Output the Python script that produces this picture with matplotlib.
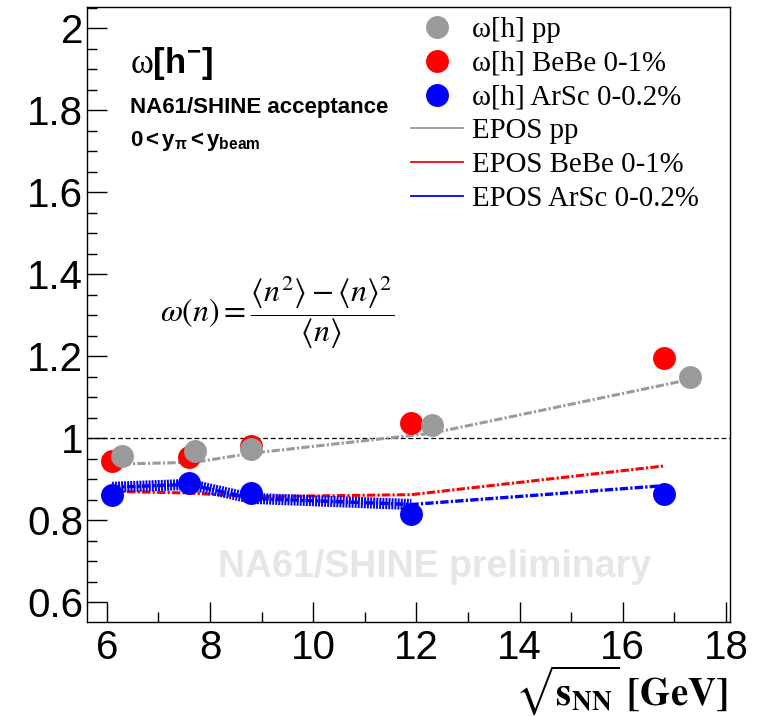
import numpy as np
import matplotlib
matplotlib.use("Agg")
import matplotlib.pyplot as plt
from matplotlib.lines import Line2D

# collision energies sqrt(s_NN) [GeV]
energy_pp = [6.3, 7.7, 8.8, 12.3, 17.3]
energy_ion = [6.1, 7.6, 8.8, 11.9, 16.8]

# scaled variance of negatively charged hadrons
omega_pp = [0.957, 0.969, 0.973, 1.033, 1.149]
omega_bebe = [0.943, 0.954, 0.981, 1.037, 1.196]
omega_arsc = [0.861, 0.891, 0.865, 0.816, 0.863]

# EPOS model predictions
epos_pp = [0.937, 0.941, 0.963, 1.012, 1.143]
epos_bebe = [0.870, 0.866, 0.857, 0.862, 0.932]
epos_arsc = [0.880, 0.887, 0.853, 0.838, 0.884]

labels_data = ["ω[h] pp", "ω[h] BeBe 0-1%", "ω[h] ArSc 0-0.2%"]
labels_epos = ["EPOS pp", "EPOS BeBe 0-1%", "EPOS ArSc 0-0.2%"]

GRAY = "#9a9a9a"
RED = "#ff0000"
BLUE = "#0000ff"


def main():
    plt.rcParams.update({
        "font.family": "Liberation Sans",
        "lines.scale_dashes": False,
        "mathtext.fontset": "custom",
        "mathtext.rm": "Liberation Serif",
        "mathtext.it": "Liberation Serif:italic",
        "mathtext.bf": "Liberation Sans:bold",
        "mathtext.sf": "Liberation Sans",
    })

    W, H = 761, 716
    fig = plt.figure(figsize=(W / 100, H / 100), dpi=100)
    ax = fig.add_axes([87.3 / W, 94.3 / H, (730 - 87.3) / W, (709 - 94.3) / H])

    # reference line at omega = 1
    ax.axhline(1.0, color="black", lw=0.9, dashes=(3.5, 2.0), zorder=1)

    dd = (6, 1.6, 1.6, 1.6)
    ax.plot(energy_pp, epos_pp, color=GRAY, lw=2.2, dashes=dd, zorder=2)
    ax.plot(energy_ion, epos_bebe, color=RED, lw=2.2, dashes=dd, zorder=2)
    ax.plot(energy_ion, epos_arsc, color=BLUE, lw=2.4, dashes=dd, zorder=3)
    # heavy striped part of the ArSc curve at low energies
    ax.plot(energy_ion[:4], epos_arsc[:4], color=BLUE, lw=8, dashes=(1.4, 0.8),
            zorder=3)

    ms = 16.5
    ax.plot(energy_ion, omega_bebe, "o", color=RED, ms=ms, mec="none", zorder=4)
    ax.plot(energy_pp, omega_pp, "o", color=GRAY, ms=ms, mec="none", zorder=5)
    ax.plot(energy_ion, omega_arsc, "o", color=BLUE, ms=ms, mec="none", zorder=5)

    ax.set_xlim(5.62, 18.08)
    ax.set_ylim(0.552, 2.052)
    ax.set_xticks(np.arange(6, 18.1, 2))
    ax.set_xticks(np.arange(6, 18.1, 1), minor=True)
    ax.set_yticks(np.arange(0.6, 2.01, 0.2))
    ax.set_yticks(np.arange(0.6, 2.051, 0.05), minor=True)
    ax.set_xticklabels(["6", "8", "10", "12", "14", "16", "18"])
    ax.set_yticklabels(["0.6", "0.8", "1", "1.2", "1.4", "1.6", "1.8", "2"])
    ax.tick_params(which="both", direction="in", top=False, right=False,
                   width=1.0, labelsize=29)
    ax.tick_params(which="major", length=14.4)
    ax.tick_params(which="minor", length=7.4)
    ax.tick_params(axis="x", pad=5)
    ax.tick_params(axis="y", pad=3)
    for sp in ax.spines.values():
        sp.set_linewidth(1.0)

    # legend
    handles = [
        Line2D([], [], ls="none", marker="o", ms=ms, color=GRAY, mec="none"),
        Line2D([], [], ls="none", marker="o", ms=ms, color=RED, mec="none"),
        Line2D([], [], ls="none", marker="o", ms=ms, color=BLUE, mec="none"),
        Line2D([], [], color=GRAY, lw=1.3),
        Line2D([], [], color=RED, lw=1.3),
        Line2D([], [], color=BLUE, lw=1.3),
    ]
    leg = fig.legend(handles, labels_data + labels_epos,
                     loc="upper left", bbox_to_anchor=(411 / W, 1 - 17 / H),
                     frameon=False, borderpad=0, borderaxespad=0,
                     handlelength=1.8, handletextpad=0.3, labelspacing=0.26,
                     prop={"family": "Liberation Serif", "size": 20.8})
    leg.set_zorder(10)

    # plot annotations
    fig.text(130 / W, 1 - 63 / H, r"$\mathrm{\omega}\mathbf{[h^{-}]}$",
             fontsize=25, va="center", ha="left")
    fig.text(130 / W, 1 - 108 / H, "NA61/SHINE acceptance",
             fontsize=16, fontweight="bold", va="center", ha="left")
    fig.text(130 / W, 1 - 141 / H, r"$\mathbf{0{<}y_{\pi}{<}y_{beam}}$",
             fontsize=16, va="center", ha="left")

    fig.text(160 / W, 1 - 312 / H,
             r"$\omega\left(n\right)=\dfrac{\left\langle n^{2}\right\rangle"
             r"-\left\langle n\right\rangle^{2}}{\left\langle n\right\rangle}$",
             fontsize=23, va="center", ha="left", math_fontfamily="stix")

    fig.text(435 / W, 1 - 567 / H, "NA61/SHINE preliminary",
             fontsize=27, fontweight="bold", color="#e6e6e6",
             va="center", ha="center", zorder=0)

    fig.text(728 / W, 1 - 690 / H,
             r"$\sqrt{\mathbf{s}_{\mathbf{NN}}}\ \mathbf{[GeV]}$",
             fontsize=28, va="center", ha="right", math_fontfamily="stix")

    fig.savefig("out.png", dpi=100)


if __name__ == "__main__":
    main()
